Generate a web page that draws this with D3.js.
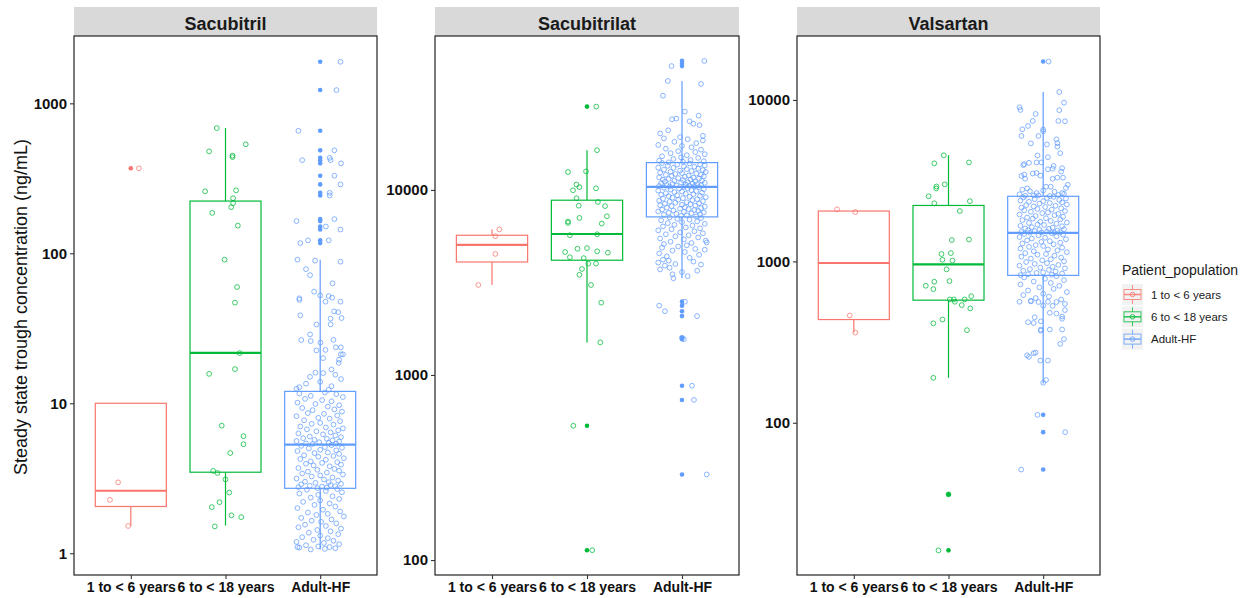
<!DOCTYPE html>
<html>
<head>
<meta charset="utf-8">
<script src="https://cdn.jsdelivr.net/npm/d3@7"></script>
<style>
  body { margin: 0; background: #fff; }
  svg text { font-family: "Liberation Sans", Arial, sans-serif; }
</style>
</head>
<body>
<svg id="chart" width="1245" height="598"></svg>
<script>
// ---- data ----
const drugs = ["Sacubitril", "Sacubitrilat", "Valsartan"];
const populations = ["1 to < 6 years", "6 to < 18 years", "Adult-HF"];
const colors = ["#F8766D", "#00BA38", "#619CFF"];
const yDomains = [[0.716, 2812], [83, 67900], [11.4, 24900]];
const yTicks = [[1, 10, 100, 1000], [100, 1000, 10000], [100, 1000, 10000]];

// box stats per population: [lower whisker, q1, median, q3, upper whisker]
const sacubitrilBox = [[1.52, 2.05, 2.61, 10, 10], [1.53, 3.47, 21.7, 223, 684], [1.06, 2.71, 5.3, 12.0, 90.7]];
const sacubitrilatBox = [[3065, 4080, 5045, 5690, 6120], [1500, 4170, 5780, 8800, 16400], [3330, 7150, 10380, 14050, 38800]];
const valsartanBox = [[362, 436, 977, 2050, 2050], [190, 575, 958, 2220, 4540], [175, 819, 1503, 2530, 11200]];

// boxplot outliers (solid dots at category centre)
const sacubitrilOut = [[369], [], [1893, 1226, 656, 486, 433, 418, 398, 329, 288, 253, 243, 169, 164, 151, 144, 122, 117]];
const sacubitrilatOut = [[], [28200, 532, 113], [49800, 48000, 46700, 2490, 2370, 2210, 2080, 1590, 1560, 875, 733, 290]];
const valsartanOut = [[], [36, 16.2], [17300, 112, 87.5, 51.3]];

// jittered observations: [offset in category units, value]
const sacubitrilYoung = [[0.085, 369], [-0.134, 2.97], [-0.22, 2.27], [-0.028, 1.52]];
const sacubitrilChild = [[-0.092, 684], [0.214, 533], [-0.173, 478], [0.074, 448], [0.074, 438], [-0.215, 259], [0.112, 263], [0.08, 233], [0.08, 216], [0.06, 203], [-0.14, 186], [0.13, 153], [-0.01, 90.7], [0.122, 59.6], [0.10, 46.9], [0.15, 21.6], [-0.173, 15.7], [0.10, 16.9], [-0.04, 7.09], [0.19, 6.03], [0.19, 5.33], [0.05, 4.66], [-0.13, 3.54], [-0.085, 3.43], [0, 3.11], [0.04, 2.54], [-0.063, 2.19], [-0.145, 2.03], [0.063, 1.79], [0.166, 1.74], [-0.113, 1.51]];
const sacubitrilAdult = [
  [0.214, 1893], [0.172, 1226], [-0.23, 656], [0.15, 486], [-0.19, 418], [0.1, 433], [0.11, 418], [0.22, 398], [0.15, 329], [0.214, 288], [0.1, 253], [0.1, 243], [-0.25, 164], [0.15, 169], [0.06, 151], [0.214, 144], [-0.21, 117], [-0.128, 122], [0.09, 122],
  [-0.24, 90.7], [-0.054, 89.3], [0.214, 87.9], [-0.15, 78.4], [-0.107, 71.5], [0.13, 63.1], [-0.064, 55.5], [0.09, 51.9], [-0.22, 50.1], [0, 52.4], [0.126, 50.6],
  [-0.22, 48.9], [0.214, 47.6], [0.056, 47.6], [-0.21, 38.6], [0.147, 41], [0.19, 40.5], [0.11, 36.7], [0.225, 37], [-0.04, 33.5], [0.11, 33.6], [-0.107, 28.8], [-0.1, 26], [-0.2, 26.4], [0.14, 26.5], [0.003, 25.4], [0.165, 23.6], [0.218, 23.6], [-0.04, 22.5], [0.056, 22.7], [0.218, 21.2], [0.24, 21.2], [0.2, 19.5], [0.03, 20.0], [0.196, 18.6], [0.119, 16.8], [-0.05, 16], [0.03, 15.9], [0.16, 15.5], [0.22, 14.5], [-0.107, 15.0], [0.0, 13.9], [-0.15, 13.5], [-0.22, 12.8], [0.12, 13], [-0.25, 12.5], [0.09, 12.3],
  [-0.22, 11.6], [0.05, 11.8], [0.17, 11.5], [-0.1, 11.2], [0.24, 11.0], [-0.16, 10.7], [0.02, 10.5], [0.12, 10.3], [-0.24, 10.1], [-0.05, 9.9], [0.2, 9.7], [0.08, 9.5], [-0.19, 9.3], [0.15, 9.1], [-0.08, 9.0], [0.23, 8.8], [-0.13, 8.6], [0.04, 8.5], [0.18, 8.3], [-0.25, 8.2], [-0.02, 8.0], [0.1, 7.9], [-0.17, 7.7], [0.21, 7.6], [0.0, 7.4], [-0.09, 7.3], [0.14, 7.2], [-0.21, 7.0], [0.06, 6.9], [0.24, 6.8], [-0.14, 6.7], [0.19, 6.6], [-0.04, 6.5], [0.11, 6.4], [-0.23, 6.3], [0.03, 6.2], [0.16, 6.1], [-0.11, 6.0], [0.22, 5.95], [-0.18, 5.85], [0.07, 5.8], [-0.06, 5.7], [0.13, 5.65], [-0.25, 5.6], [0.2, 5.55], [-0.01, 5.5], [0.09, 5.45], [-0.15, 5.4], [0.17, 5.38], [-0.08, 5.35],
  [0.12, 5.25], [-0.2, 5.2], [0.05, 5.1], [0.23, 5.05], [-0.12, 5.0], [0.0, 4.9], [0.17, 4.85], [-0.24, 4.8], [0.08, 4.7], [-0.06, 4.65], [0.2, 4.6], [-0.17, 4.5], [0.14, 4.45], [-0.02, 4.4], [0.25, 4.3], [-0.21, 4.25], [0.06, 4.2], [-0.1, 4.1], [0.18, 4.05], [0.02, 4.0], [-0.15, 3.95], [0.22, 3.9], [-0.07, 3.85], [0.1, 3.8], [-0.23, 3.7], [0.15, 3.65], [-0.03, 3.6], [0.2, 3.55], [-0.13, 3.5], [0.07, 3.45], [-0.19, 3.4], [0.24, 3.35], [0.0, 3.3], [-0.09, 3.25], [0.13, 3.2], [-0.25, 3.15], [0.04, 3.1], [0.19, 3.05], [-0.16, 3.0], [0.09, 2.98], [-0.05, 2.95], [0.22, 2.9], [-0.2, 2.88], [0.11, 2.85], [-0.11, 2.82], [0.16, 2.8], [0.02, 2.78], [-0.23, 2.76], [0.07, 2.74], [-0.03, 2.72],
  [0.18, 2.68], [-0.14, 2.65], [0.06, 2.6], [0.23, 2.55], [-0.22, 2.5], [-0.02, 2.45], [0.13, 2.4], [-0.1, 2.35], [0.2, 2.3], [0.0, 2.25], [-0.18, 2.2], [0.1, 2.15], [-0.06, 2.1], [0.16, 2.05], [-0.24, 2.0], [0.03, 1.95], [0.21, 1.9], [-0.13, 1.87], [0.08, 1.83], [-0.04, 1.8], [0.25, 1.76], [-0.2, 1.72], [0.12, 1.68], [-0.09, 1.65], [0.01, 1.62], [0.17, 1.58], [-0.16, 1.55], [0.06, 1.52], [-0.23, 1.49], [0.22, 1.46], [-0.03, 1.43], [0.11, 1.4], [-0.12, 1.37], [0.19, 1.34], [0.0, 1.31], [-0.19, 1.28], [0.08, 1.26], [-0.07, 1.23], [0.14, 1.21], [-0.25, 1.19], [0.04, 1.17], [0.2, 1.15], [-0.15, 1.13], [-0.02, 1.11], [0.1, 1.1], [-0.22, 1.09], [0.16, 1.08], [-0.24, 1.1], [0.05, 1.07], [-0.1, 1.06]
];

const sacubitrilatYoung = [[0.077, 6120], [0.035, 5620], [0.035, 4510], [-0.144, 3065]];
const sacubitrilatChild = [[0.098, 28200], [-0.144, 532], [0.055, 113], [0.105, 16400], [-0.2, 12500], [-0.01, 12600], [-0.11, 10700], [-0.08, 10360], [-0.147, 9960], [0.095, 10200], [-0.11, 9020], [0.115, 8610], [-0.087, 8220], [0.19, 8180], [0.21, 7210], [-0.08, 7060], [-0.2, 6750], [-0.2, 6640], [0.155, 6580], [-0.18, 5690], [0.107, 5760], [-0.23, 4620], [-0.1, 4810], [0, 4850], [0.107, 4660], [0.22, 4580], [-0.18, 4330], [-0.035, 4280], [0.014, 4000], [0.095, 4000], [-0.053, 3740], [-0.08, 3480], [0.042, 3065], [0.15, 2460], [0.14, 1500]];
const sacubitrilatAdult = [
  [0.235, 49800], [-0.11, 46700], [-0.24, 2370], [-0.18, 2210], [0.03, 2490], [0.158, 2080], [0.0, 1590], [0.02, 1560], [0.105, 875], [0.126, 733], [0.26, 290],
  [-0.15, 38800], [0.2, 37400], [-0.2, 32300], [0.03, 26500], [-0.06, 24300], [-0.105, 24100], [0.175, 25200], [0.08, 23500], [0.12, 22800], [0.185, 22400], [-0.23, 20200], [-0.145, 21000], [-0.02, 19300], [0.22, 19600], [0.22, 18500], [-0.19, 19000], [0.06, 18800], [-0.08, 18200], [0.15, 17900], [-0.25, 17500], [0.0, 17300], [0.1, 17000], [-0.17, 16700], [0.2, 16500], [-0.04, 16200], [0.14, 16000], [-0.12, 15800], [0.24, 15600], [0.05, 15400], [-0.21, 15200], [-0.01, 15000], [0.17, 14900], [-0.09, 14700], [0.09, 14500], [-0.24, 14400], [0.23, 14300], [0.01, 14200], [-0.14, 14100],
  [-0.21, 13980], [0.08, 13900], [0.19, 13750], [-0.05, 13700], [0.24, 13560], [-0.15, 13500], [0.02, 13380], [0.13, 13330], [-0.25, 13200], [-0.09, 13150], [0.17, 13020], [0.05, 12950], [-0.19, 12880], [0.22, 12800], [-0.02, 12700], [0.1, 12660], [-0.12, 12540], [0.25, 12500], [-0.23, 12390], [0.0, 12330], [0.15, 12250], [-0.07, 12200], [0.2, 12100], [-0.17, 12060], [0.07, 11960], [-0.11, 11920], [0.23, 11840], [0.03, 11790], [-0.24, 11700], [0.12, 11650], [-0.04, 11580], [0.18, 11520], [-0.14, 11470], [0.09, 11400], [-0.2, 11350], [0.01, 11300], [0.21, 11230], [-0.08, 11190], [0.14, 11120], [-0.18, 11070], [0.06, 11010], [-0.01, 10980], [0.24, 10920], [-0.22, 10880], [0.11, 10830], [-0.1, 10780], [0.16, 10740], [0.04, 10690], [-0.16, 10650], [0.2, 10610], [-0.06, 10570], [0.08, 10530], [-0.24, 10500], [0.13, 10460], [-0.13, 10430], [0.02, 10400],
  [0.18, 10350], [-0.19, 10290], [0.06, 10220], [-0.03, 10160], [0.23, 10100], [-0.12, 10040], [0.1, 9970], [-0.25, 9910], [0.15, 9850], [0.0, 9790], [-0.08, 9730], [0.21, 9660], [-0.17, 9600], [0.04, 9540], [0.12, 9480], [-0.22, 9420], [-0.05, 9360], [0.19, 9300], [-0.14, 9250], [0.08, 9190], [0.25, 9130], [-0.1, 9080], [0.01, 9020], [-0.2, 8960], [0.16, 8910], [-0.04, 8850], [0.11, 8800], [-0.24, 8740], [0.22, 8690], [-0.13, 8630], [0.05, 8580], [-0.07, 8530], [0.18, 8470], [-0.18, 8420], [0.09, 8370], [0.0, 8320], [-0.23, 8270], [0.14, 8220], [-0.11, 8170], [0.24, 8120], [0.03, 8070], [-0.16, 8020], [0.2, 7970], [-0.02, 7920], [0.07, 7880], [-0.21, 7830], [0.13, 7790], [-0.09, 7740], [0.17, 7700], [-0.25, 7650], [0.02, 7610], [0.23, 7560], [-0.14, 7520], [0.1, 7480], [-0.06, 7430], [0.19, 7390], [-0.19, 7340], [0.05, 7290], [-0.01, 7240], [0.15, 7190],
  [-0.13, 7100], [0.2, 7050], [-0.05, 6980], [0.08, 6900], [-0.22, 6850], [0.16, 6760], [0.0, 6700], [-0.15, 6620], [0.24, 6560], [-0.08, 6480], [0.11, 6420], [-0.2, 6350], [0.04, 6270], [0.19, 6200], [-0.11, 6130], [-0.25, 6050], [0.13, 5980], [-0.02, 5900], [0.22, 5830], [-0.17, 5760], [0.07, 5690], [-0.07, 5610], [0.17, 5540], [-0.23, 5470], [0.02, 5400], [0.25, 5320], [-0.12, 5250], [0.1, 5170], [-0.19, 5100], [0.26, 5200], [0.05, 5020], [-0.04, 4950], [0.24, 4750], [-0.21, 4870], [0.14, 4800], [-0.1, 4700], [0.03, 4620], [-0.24, 4540], [0.18, 4460], [-0.16, 4380], [0.08, 4300], [-0.2, 4200], [-0.14, 4150], [-0.25, 4050], [0.12, 4100], [-0.07, 3980], [-0.18, 3900], [0.2, 3950], [-0.13, 3800], [0.16, 3660], [-0.23, 3720], [0.0, 3600], [-0.1, 3500], [-0.09, 3330], [0.06, 3420]
];

const valsartanYoung = [[-0.177, 2100], [0.016, 2020], [-0.043, 462], [0.016, 362]];
const valsartanChild = [[-0.106, 16.2], [0.0, 36], [-0.05, 4540], [-0.15, 4050], [0.216, 4100], [-0.04, 3000], [-0.127, 2910], [-0.13, 2830], [-0.21, 2530], [0.226, 2360], [-0.15, 2290], [0.12, 2050], [0.035, 1355], [0.216, 1365], [-0.074, 1110], [0.025, 1125], [0.042, 1010], [-0.064, 1023], [-0.02, 892], [-0.24, 706], [-0.15, 748], [-0.16, 673], [0.01, 755], [0.015, 581], [0.057, 581], [0.17, 581], [0.24, 609], [0.067, 562], [0.14, 536], [0.23, 511], [-0.064, 436], [-0.16, 413], [0.195, 375], [-0.16, 190]];
const valsartanAdult = [
  [0.057, 17300], [-0.06, 112], [0.232, 87.5], [-0.232, 51.3],
  [0.17, 11200], [0.22, 9620], [-0.25, 9010], [-0.24, 8670], [0.17, 8640], [-0.08, 8190], [-0.11, 7410], [0.16, 7410], [0.23, 7380], [-0.16, 6900], [-0.22, 6580], [0.0, 6560], [0.0, 6400], [-0.23, 5980], [-0.05, 5980], [0.14, 5700], [0.15, 5400], [0.15, 5140], [0.04, 5300], [-0.13, 5380], [0.18, 4680], [-0.06, 4530], [0.05, 4420], [-0.2, 4000], [-0.21, 3950], [-0.07, 4100], [-0.02, 4100], [-0.15, 4080], [0.11, 3900], [0.1, 3750], [0.2, 3780], [0.19, 3600], [0.05, 3720], [-0.23, 3380], [-0.2, 3450], [-0.19, 3250], [-0.11, 3500], [-0.07, 3530], [-0.03, 3400], [0.1, 3250], [0.15, 3300], [0.21, 3300], [0.26, 2980], [0.24, 2850], [0.03, 2900], [0.08, 2900], [-0.22, 2780], [-0.17, 2830], [-0.14, 2720], [0.2, 2650], [0.22, 2620], [-0.07, 2650], [-0.05, 2560], [0.12, 2700], [-0.25, 2600], [0.0, 2750], [0.16, 2580], [-0.1, 2560], [0.07, 2540], [-0.19, 2550],
  [0.11, 2510], [-0.21, 2490], [0.04, 2470], [0.24, 2450], [-0.09, 2430], [0.17, 2400], [-0.24, 2380], [0.0, 2360], [-0.15, 2340], [0.2, 2320], [0.07, 2300], [-0.04, 2280], [0.25, 2250], [-0.18, 2230], [0.13, 2210], [-0.1, 2190], [0.02, 2170], [-0.23, 2150], [0.19, 2130], [-0.06, 2110], [0.09, 2090], [-0.2, 2070], [0.23, 2050], [-0.13, 2030], [0.05, 2010], [-0.01, 1990], [0.16, 1970], [-0.25, 1950], [0.12, 1930], [-0.08, 1910], [0.21, 1890], [-0.17, 1870], [0.03, 1850], [-0.11, 1840], [0.18, 1820], [-0.22, 1800], [0.08, 1780], [-0.03, 1760], [0.25, 1740], [-0.15, 1730], [0.14, 1710], [-0.06, 1690], [0.01, 1680], [-0.24, 1660], [0.2, 1650], [-0.12, 1630], [0.1, 1620], [-0.19, 1600], [0.06, 1590], [0.22, 1580], [-0.04, 1570], [-0.16, 1560], [0.15, 1550], [-0.09, 1540], [0.04, 1530], [-0.23, 1520], [0.18, 1515], [-0.02, 1510], [0.12, 1507], [-0.14, 1505],
  [0.09, 1495], [-0.2, 1480], [0.21, 1465], [-0.05, 1450], [0.14, 1430], [-0.25, 1415], [0.02, 1400], [-0.12, 1385], [0.24, 1370], [-0.17, 1350], [0.07, 1335], [-0.02, 1320], [0.18, 1305], [-0.22, 1290], [0.11, 1275], [-0.08, 1260], [0.0, 1245], [-0.15, 1230], [0.2, 1215], [-0.24, 1200], [0.05, 1185], [0.15, 1170], [-0.1, 1155], [0.25, 1140], [-0.19, 1125], [0.03, 1110], [-0.06, 1100], [0.12, 1085], [-0.23, 1070], [0.19, 1055], [-0.13, 1040], [0.08, 1030], [-0.01, 1015], [0.22, 1000], [-0.18, 990], [0.04, 975], [-0.09, 965], [0.16, 950], [-0.25, 940], [0.1, 925], [-0.03, 915], [0.23, 905], [-0.14, 895], [0.06, 885], [-0.21, 875], [0.13, 865], [0.0, 855], [-0.07, 848], [0.2, 840], [-0.16, 832], [0.09, 826], [-0.24, 822],
  [0.14, 810], [-0.2, 795], [0.02, 780], [0.22, 765], [-0.1, 750], [0.08, 735], [-0.24, 720], [0.17, 705], [-0.04, 690], [0.11, 675], [-0.16, 660], [0.25, 645], [0.0, 630], [-0.21, 618], [0.06, 605], [-0.08, 592], [0.19, 580], [-0.13, 570], [-0.25, 562], [-0.13, 565], [-0.05, 560], [0.05, 562], [0.14, 560], [0.23, 545], [0.1, 530], [0.0, 532], [0.23, 499], [0.07, 480], [0.14, 475], [0.2, 455], [0.2, 441], [-0.09, 450], [-0.16, 420], [-0.1, 415], [-0.025, 425], [-0.025, 378], [-0.025, 372], [0.07, 378], [0.2, 378], [0.22, 330], [0.18, 308], [-0.17, 262], [-0.15, 256], [-0.1, 270], [-0.08, 272], [-0.03, 243], [0.05, 243], [0.0, 177], [0.03, 184]
];

// ---- layout ----
const svg = d3.select("#chart");
const panelX = [[74, 377], [435, 739], [797, 1100]];
const panelTop = 36, panelBottom = 575, stripTop = 7;

const panels = [
  { box: sacubitrilBox, out: sacubitrilOut, pts: [sacubitrilYoung, sacubitrilChild, sacubitrilAdult] },
  { box: sacubitrilatBox, out: sacubitrilatOut, pts: [sacubitrilatYoung, sacubitrilatChild, sacubitrilatAdult] },
  { box: valsartanBox, out: valsartanOut, pts: [valsartanYoung, valsartanChild, valsartanAdult] }
];

panels.forEach((p, i) => {
  const [x0, x1] = panelX[i];
  const x = d3.scalePoint().domain(populations).range([x0, x1]).padding(0.6);
  const step = x.step();
  const y = d3.scaleLog().domain(yDomains[i]).range([panelBottom, panelTop]);
  const g = svg.append("g");

  // strip
  g.append("rect").attr("x", x0).attr("y", stripTop).attr("width", x1 - x0).attr("height", panelTop - stripTop)
    .attr("fill", "#D9D9D9");
  g.append("text").attr("x", (x0 + x1) / 2).attr("y", 30).attr("text-anchor", "middle")
    .attr("font-size", 18).attr("font-weight", "bold").attr("fill", "#1a1a1a").text(drugs[i]);

  // boxes
  populations.forEach((pop, j) => {
    const [lo, q1, med, q3, hi] = p.box[j];
    const cx = x(pop), bw = 0.75 * step;
    const bg = g.append("g").attr("stroke", colors[j]).attr("fill", "none");
    bg.append("line").attr("x1", cx).attr("x2", cx).attr("y1", y(q3)).attr("y2", y(hi)).attr("stroke-width", 1.2);
    bg.append("line").attr("x1", cx).attr("x2", cx).attr("y1", y(q1)).attr("y2", y(lo)).attr("stroke-width", 1.2);
    bg.append("rect").attr("x", cx - bw / 2).attr("width", bw).attr("y", y(q3)).attr("height", y(q1) - y(q3))
      .attr("fill", "#fff").attr("stroke-width", 1.2);
    bg.append("line").attr("x1", cx - bw / 2).attr("x2", cx + bw / 2).attr("y1", y(med)).attr("y2", y(med))
      .attr("stroke-width", 2.2);
    g.selectAll(null).data(p.out[j]).join("circle")
      .attr("cx", cx).attr("cy", d => y(d)).attr("r", 2.3).attr("fill", colors[j]);
  });

  // jittered points
  populations.forEach((pop, j) => {
    g.selectAll(null).data(p.pts[j]).join("circle")
      .attr("cx", d => x(pop) + d[0] * step).attr("cy", d => y(d[1])).attr("r", 2.4)
      .attr("fill", "none").attr("stroke", colors[j]).attr("stroke-width", 1).attr("stroke-opacity", 0.75);
  });

  // border
  g.append("rect").attr("x", x0).attr("y", panelTop).attr("width", x1 - x0).attr("height", panelBottom - panelTop)
    .attr("fill", "none").attr("stroke", "#222").attr("stroke-width", 1.2);

  // axes
  const ya = g.append("g").attr("transform", `translate(${x0},0)`)
    .call(d3.axisLeft(y).tickValues(yTicks[i]).tickFormat(d3.format("d")).tickSize(4).tickPadding(3));
  const xa = g.append("g").attr("transform", `translate(0,${panelBottom})`)
    .call(d3.axisBottom(x).tickSize(4).tickPadding(3));
  [ya, xa].forEach(a => {
    a.select(".domain").remove();
    a.selectAll(".tick line").attr("stroke", "#333").attr("stroke-width", 1.1);
    a.selectAll(".tick text").attr("fill", "#111").attr("font-weight", "bold")
      .style("font-family", '"Liberation Sans", Arial, sans-serif');
  });
  ya.selectAll(".tick text").attr("font-size", 15);
  xa.selectAll(".tick text").attr("font-size", 14);
});

// y axis title
svg.append("text").attr("transform", "translate(27,307) rotate(-90)").attr("text-anchor", "middle")
  .attr("font-size", 18).attr("fill", "#111").text("Steady state trough concentration (ng/mL)");

// legend
const lg = svg.append("g").attr("transform", "translate(1122,0)");
lg.append("text").attr("x", 0).attr("y", 275).attr("font-size", 14).attr("fill", "#1a1a1a").text("Patient_population");
populations.forEach((pop, j) => {
  const ky = 284 + j * 22.3;
  const k = lg.append("g").attr("transform", `translate(0,${ky})`);
  k.append("rect").attr("width", 21).attr("height", 21).attr("fill", "#F2F2F2");
  const kc = k.append("g").attr("stroke", colors[j]).attr("fill", "none").attr("stroke-opacity", 0.8);
  kc.append("line").attr("x1", 10.5).attr("x2", 10.5).attr("y1", 1).attr("y2", 20).attr("stroke-width", 1);
  kc.append("rect").attr("x", 2).attr("y", 5.5).attr("width", 17).attr("height", 10).attr("fill", "#F2F2F2").attr("stroke-width", 1);
  kc.append("line").attr("x1", 2).attr("x2", 19).attr("y1", 10.5).attr("y2", 10.5).attr("stroke-width", 1.6);
  kc.append("circle").attr("cx", 10.5).attr("cy", 10.5).attr("r", 2.3).attr("stroke-width", 1);
  lg.append("text").attr("x", 29).attr("y", ky + 14.5).attr("font-size", 11.5).attr("fill", "#1a1a1a").text(pop);
});
</script>
</body>
</html>
